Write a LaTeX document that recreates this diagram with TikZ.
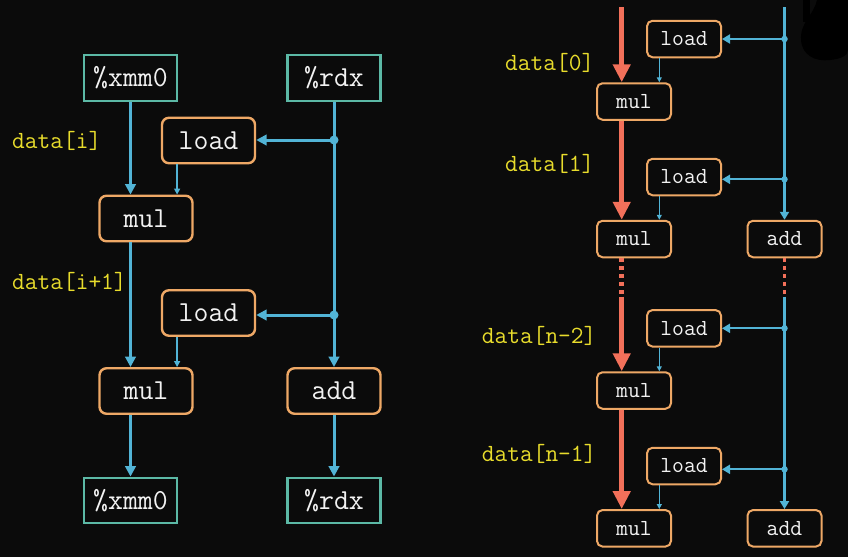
\documentclass[tikz,border=0pt]{standalone}
\usetikzlibrary{arrows.meta,calc}
\definecolor{bg}{HTML}{0B0B0B}
\definecolor{flow}{HTML}{52B4D6}
\definecolor{opbox}{HTML}{EEA866}
\definecolor{regbox}{HTML}{5CB9A6}
\definecolor{crit}{HTML}{F2705A}
\definecolor{lbl}{HTML}{E8DC2C}
\definecolor{txt}{HTML}{F2F2F2}
\begin{document}
\begin{tikzpicture}[x=1pt,y=-1pt,
  bigtxt/.style={font=\ttfamily\fontsize{29}{31}\selectfont},
  smalltxt/.style={font=\ttfamily\fontsize{23}{25}\selectfont},
  reg/.style={draw=regbox, line width=2.4pt, text=txt, inner sep=0pt,
    minimum width=93pt, minimum height=45.5pt, bigtxt},
  opL/.style={draw=opbox, line width=2.4pt, rounded corners=7pt, text=txt,
    inner sep=0pt, minimum width=93pt, minimum height=45.5pt, bigtxt},
  opR/.style={draw=opbox, line width=2pt, rounded corners=5.5pt, text=txt,
    inner sep=0pt, minimum width=74pt, minimum height=36.5pt, smalltxt},
  lab/.style={text=lbl, anchor=base west, inner sep=0pt,
    font=\ttfamily\fontsize{24.7}{26}\selectfont},
  wire/.style={draw=flow, line width=3pt, -{Triangle[length=10.5pt,width=10.5pt]}},
  wireplain/.style={draw=flow, line width=3pt},
  feed/.style={draw=flow, line width=1.4pt, -{Triangle[length=6pt,width=6pt]}},
  wireR/.style={draw=flow, line width=2.3pt, -{Triangle[length=8pt,width=9pt]}},
  feedR/.style={draw=flow, line width=1.2pt, -{Triangle[length=5pt,width=5pt]}},
  chain/.style={draw=crit, line width=5.3pt, -{Triangle[length=18pt,width=17pt]}},
  chaindots/.style={draw=crit, line width=5.3pt, dash pattern=on 3.5pt off 4.5pt},
  smalldots/.style={draw=crit, line width=3.3pt, dash pattern=on 3.5pt off 4.5pt},
  tap/.style={fill=flow, circle, inner sep=0pt, minimum size=9pt},
  tapR/.style={fill=flow, circle, inner sep=0pt, minimum size=6.5pt},
]
\fill[bg] (0,0) rectangle (848,557);
\useasboundingbox (0,0) rectangle (848,557);

% a dark smudge in the upper right corner
\fill[black] (817,0) .. controls (814,15) and (800,22) .. (801,40)
  .. controls (802,55) and (815,62) .. (830,60)
  .. controls (840,59) and (848,56) .. (848,50) -- (848,0) -- cycle;
\fill[black] (803,0) rectangle (810,22);

% ---------------- loop body: one iteration ----------------
\node[reg] (xmmin) at (130.5,78) {\%xmm0};
\node[reg] (rdxin) at (334,78) {\%rdx};
\node[opL] (loadA) at (208.5,140.5) {load};
\node[opL] (mulA) at (146,218.5) {mul};
\node[opL] (loadB) at (208.5,313) {load};
\node[opL] (mulB) at (146,391) {mul};
\node[opL] (addA) at (334,391) {add};
\node[reg] (xmmout) at (130.5,500.5) {\%xmm0};
\node[reg] (rdxout) at (334,500.5) {\%rdx};

\node[lab] (lbi) at (12,148) {data[i]};
\node[lab] (lbii) at (12,289) {data[i+1]};

\node[tap] (tapA) at (rdxin.south |- 0,140) {};
\node[tap] (tapB) at (rdxin.south |- 0,315) {};

\draw[wire] (xmmin.south) -- (xmmin.south |- mulA.north);
\draw[wire] (mulA.south -| xmmin.south) -- (xmmin.south |- mulB.north);
\draw[wire] (mulB.south -| xmmin.south) -- (xmmout.north);
\coordinate (feedA) at ($(loadA.south west)+(16.3,0)$);
\coordinate (feedB) at ($(loadB.south west)+(16.3,0)$);
\draw[feed] (feedA) -- (feedA |- mulA.north);
\draw[feed] (feedB) -- (feedB |- mulB.north);
\draw[wireplain] (rdxin.south) -- (tapB.center);
\draw[wire] (tapA.center) -- (tapA -| loadA.east);
\draw[wire] (tapB.center) -- (tapB -| loadB.east);
\draw[wire] (tapB.center) -- (addA.north);
\draw[wire] (addA.south) -- (rdxout.north);

% ---------------- unrolled chain ----------------
\node[opR] (ld0) at (684,39) {load};
\node[opR] (m0) at (634,101.5) {mul};
\node[opR] (ld1) at (684,177) {load};
\node[opR] (m1) at (634,239) {mul};
\node[opR] (a1) at (784.5,239) {add};
\node[opR] (ld2) at (684,328.3) {load};
\node[opR] (m2) at (634,390.5) {mul};
\node[opR] (ld3) at (684,466) {load};
\node[opR] (m3) at (634,528.3) {mul};
\node[opR] (a2) at (784.5,528.3) {add};

\node[lab] (lb0) at (505,70) {data[0]};
\node[lab] (lb1) at (505,171.5) {data[1]};
\node[lab] (lb2) at (481.7,343.3) {data[n-2]};
\node[lab] (lb3) at (481.7,461.7) {data[n-1]};

\coordinate (chaintop) at (621.7,7);
\coordinate (chainmid) at (621.7,296.7);
\coordinate (idxtop) at (784.5,7);
\coordinate (idxmid) at (784.5,296.7);

\node[tapR] (t0) at (784.5,39) {};
\node[tapR] (t1) at (784.5,179.3) {};
\node[tapR] (t2) at (784.5,328.3) {};
\node[tapR] (t3) at (784.5,469.3) {};

% multiply chain
\draw[chain] (chaintop) -- (chaintop |- m0.north);
\draw[chain] (chaintop |- m0.south) -- (chaintop |- m1.north);
\draw[chaindots] (chaintop |- m1.south) -- (chainmid);
\draw[chain] (chainmid) -- (chainmid |- m2.north);
\draw[chain] (chainmid |- m2.south) -- (chainmid |- m3.north);

% index register
\draw[wireR] (idxtop) -- (a1.north);
\draw[smalldots] (a1.south) -- (idxmid);
\draw[wireR] (idxmid) -- (a2.north);
\foreach \t/\l in {t0/ld0, t1/ld1, t2/ld2, t3/ld3}
  \draw[wireR] (\t.center) -- (\t -| \l.east);

% loads feeding the multiplies
\foreach \l/\m in {ld0/m0, ld1/m1, ld2/m2, ld3/m3} {
  \coordinate (\l f) at ($(\l.south west)+(13.3,0)$);
  \draw[feedR] (\l f) -- (\l f |- \m.north);
}
\end{tikzpicture}
\end{document}
